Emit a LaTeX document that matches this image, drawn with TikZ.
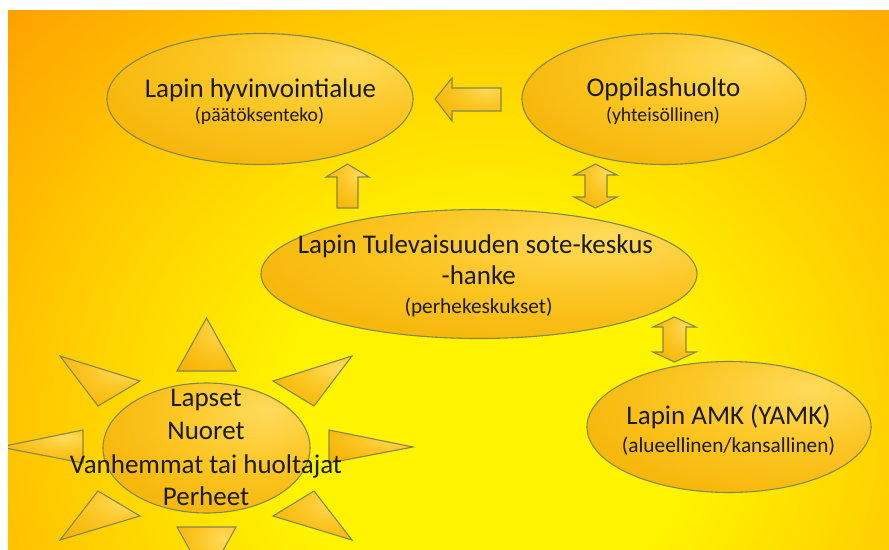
\documentclass[tikz,border=0pt]{standalone}
\usepackage{fontspec}
\setmainfont{Carlito}
\usetikzlibrary{shapes.geometric}
\definecolor{bgY}{HTML}{FFF300}
\definecolor{bgM}{HTML}{FFC600}
\definecolor{bgO}{HTML}{FF9C00}
\definecolor{hiY}{HTML}{FFDB5C}
\definecolor{midY}{HTML}{FCC623}
\definecolor{edgeY}{HTML}{F4B000}
\definecolor{lineC}{HTML}{85854F}
\definecolor{txtC}{HTML}{1A1A1A}
\pgfdeclareradialshading{ellsh}{\pgfpoint{15bp}{15bp}}{color(0bp)=(hiY); color(20bp)=(midY); color(45bp)=(edgeY); color(100bp)=(edgeY)}
\tikzset{
  ell/.style={ellipse, draw=lineC, line width=1.1pt, shade, shading=ellsh, inner sep=0pt},
  blk/.style={draw=lineC, line width=1.1pt, shade, shading=ellsh, line join=miter},
  tbig/.style={font=\fontsize{27}{27}\selectfont, anchor=base, inner sep=0pt, text=txtC},
  tsmall/.style={font=\fontsize{19.7}{20}\selectfont, anchor=base, inner sep=0pt, text=txtC},
  tmid/.style={font=\fontsize{21.3}{21}\selectfont, anchor=base, inner sep=0pt, text=txtC}
}
\begin{document}
\begin{tikzpicture}[x=1pt,y=-1pt]
\useasboundingbox (0,0) rectangle (889,549);
\fill[white] (0,0) rectangle (889,549);
\begin{scope}
\clip (8,10) rectangle (889,549);
\fill[bgO] (8,10) rectangle (889,549);
\foreach \r in {630,627,...,436} {
  \pgfmathsetmacro\p{(630-\r)/196*100}
  \fill[bgM!\p!bgO] (488,425) ellipse[x radius=1.08*\r pt, y radius=\r pt];
}
\foreach \r in {434,431,...,196} {
  \pgfmathsetmacro\p{(434-\r)/238*100}
  \fill[bgY!\p!bgM] (488,425) ellipse[x radius=1.08*\r pt, y radius=\r pt];
}

% block arrows
\draw[blk] (435,99) -- (452,78) -- (452,88) -- (501,88) -- (501,111) -- (452,111) -- (452,121) -- cycle;
\draw[blk] (347.5,164) -- (369,177) -- (358,177) -- (358,208) -- (337,208) -- (337,177) -- (326,177) -- cycle;
\draw[blk] (595.5,164) -- (617,175) -- (607,175) -- (607,197) -- (617,197) -- (595.5,208) -- (574,197) -- (585,197) -- (585,175) -- (574,175) -- cycle;
\draw[blk] (674.5,317) -- (696,327) -- (686,327) -- (686,352) -- (696,352) -- (674.5,362) -- (653,352) -- (663,352) -- (663,327) -- (653,327) -- cycle;

% sun rays
\draw[blk] (206.5,318) -- (236,371) -- (177,371) -- cycle;
\draw[blk] (206.5,580) -- (236,527) -- (177,527) -- cycle;
\draw[blk] (60,356) -- (140,381) -- (98,406) -- cycle;
\draw[blk] (352,356) -- (273,381) -- (314,406) -- cycle;
\draw[blk] (0,447) -- (83,430) -- (83,463) -- cycle;
\draw[blk] (413,447) -- (329,430) -- (329,463) -- cycle;
\draw[blk] (60,540) -- (140,516) -- (98,491) -- cycle;
\draw[blk] (352,540) -- (273,516) -- (314,491) -- cycle;

% ellipses
\node[ell, minimum width=306pt, minimum height=131pt] (hyv) at (260,99) {};
\node[ell, minimum width=284pt, minimum height=131pt] (opp) at (664,99) {};
\node[ell, minimum width=436pt, minimum height=129pt] (sote) at (479,274) {};
\node[ell, minimum width=284pt, minimum height=131pt] (amk) at (729,427) {};
\node[ell, minimum width=207pt, minimum height=130pt] (sun) at (206.5,448) {};

% texts
\node[tbig] (hyvT) at (260.5,97) {Lapin hyvinvointialue};
\node[tsmall] (hyvS) at (259.5,121) {(päätöksenteko)};
\node[tbig] (oppT) at (663.5,96) {Oppilashuolto};
\node[tsmall] (oppS) at (663,121) {(yhteisöllinen)};
\node[tbig] (soteT) at (475.5,253) {Lapin Tulevaisuuden sote-keskus};
\node[tbig] (soteH) at (478.7,284) {-hanke};
\node[tmid] (soteS) at (478.5,313) {(perhekeskukset)};
\node[tbig] (amkT) at (728.5,424) {Lapin AMK (YAMK)};
\node[tmid] (amkS) at (728.5,452) {(alueellinen/kansallinen)};
\node[tbig] (sun1) at (206,406) {Lapset};
\node[tbig] (sun2) at (206,439) {Nuoret};
\node[tbig] (sun3) at (206,473) {Vanhemmat tai huoltajat};
\node[tbig] (sun4) at (206,505) {Perheet};
\end{scope}
\end{tikzpicture}
\end{document}
